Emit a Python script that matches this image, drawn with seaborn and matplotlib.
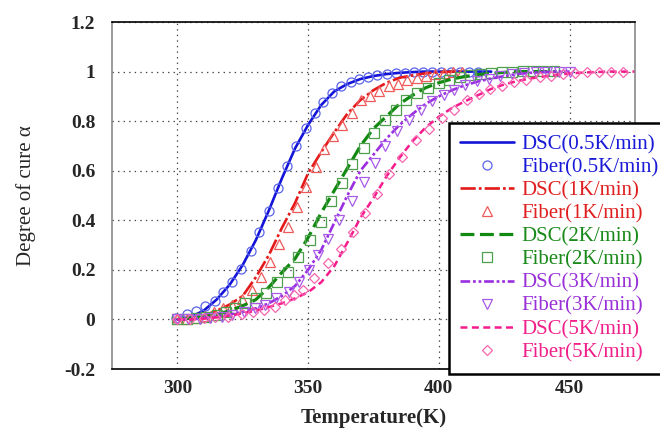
import matplotlib
matplotlib.use("Agg")
import matplotlib.pyplot as plt
import seaborn as sns

sns.set_style("white")
plt.rcParams["font.family"] = ["Liberation Serif", "DejaVu Serif"]
plt.rcParams["lines.scale_dashes"] = False

# ---- DSC model curves (temperature in K, degree of cure) ----
dsc05_T = [300, 305, 310, 315, 320, 325, 330, 335, 340, 345, 350, 355, 360, 365,
           370, 375, 380, 385, 390, 395, 400, 405, 410, 415, 420]
dsc05_a = [0.0, 0.01, 0.035, 0.08, 0.14, 0.22, 0.32, 0.44, 0.57, 0.69, 0.785, 0.865,
           0.92, 0.95, 0.97, 0.982, 0.99, 0.995, 0.998, 1.0, 1.0, 1.0, 1.0, 1.0, 1.0]

dsc1_T = [300, 305, 310, 315, 320, 325, 330, 335, 340, 345, 350, 355, 360, 365,
          370, 375, 380, 385, 390, 395, 400, 405, 410]
dsc1_a = [0.0, 0.005, 0.015, 0.035, 0.06, 0.095, 0.17, 0.26, 0.37, 0.47, 0.59, 0.675,
          0.755, 0.83, 0.885, 0.925, 0.955, 0.975, 0.985, 0.993, 0.997, 1.0, 1.0]

dsc2_T = [300, 305, 310, 315, 320, 325, 330, 335, 340, 345, 350, 355, 360, 365,
          370, 375, 380, 385, 390, 395, 400, 405, 410, 415, 420, 425, 430, 435, 440, 445]
dsc2_a = [0.0, 0.005, 0.01, 0.02, 0.035, 0.055, 0.08, 0.13, 0.19, 0.245, 0.33, 0.43,
          0.52, 0.61, 0.70, 0.77, 0.82, 0.87, 0.905, 0.935, 0.955, 0.97, 0.98, 0.988,
          0.993, 0.997, 1.0, 1.0, 1.0, 1.0]

dsc3_T = [300, 305, 310, 315, 320, 325, 330, 335, 340, 345, 350, 355, 360, 365,
          370, 375, 380, 385, 390, 395, 400, 405, 410, 415, 420, 425, 430, 435, 440,
          445, 450]
dsc3_a = [0.0, 0.0, 0.005, 0.012, 0.02, 0.03, 0.045, 0.065, 0.095, 0.135, 0.2, 0.28,
          0.39, 0.5, 0.6, 0.665, 0.73, 0.785, 0.83, 0.87, 0.9, 0.925, 0.945, 0.96,
          0.972, 0.982, 0.99, 0.995, 0.998, 1.0, 1.0]

dsc5_T = [300, 305, 310, 315, 320, 325, 330, 335, 340, 345, 350, 355, 360, 365,
          370, 375, 380, 385, 390, 395, 400, 405, 410, 415, 420, 425, 430, 435, 440,
          445, 450, 455, 460, 465, 470, 475]
dsc5_a = [0.0, 0.0, 0.003, 0.008, 0.015, 0.025, 0.035, 0.05, 0.065, 0.085, 0.11, 0.15,
          0.215, 0.31, 0.41, 0.49, 0.578, 0.653, 0.72, 0.775, 0.818, 0.853, 0.88,
          0.905, 0.93, 0.948, 0.962, 0.972, 0.98, 0.987, 0.992, 0.996, 0.998, 1.0,
          1.0, 1.0]

# ---- Fiber sensor measurements ----
fib05_T = [299.5, 303.5, 307.0, 310.7, 314.4, 317.6, 320.8, 324.3, 328.1, 331.3,
           335.0, 338.5, 342.0, 345.5, 349.3, 352.7, 355.6, 359.0, 362.6, 366.4,
           369.6, 373.0, 376.5, 380.0, 383.5, 387.0, 390.5, 394.0, 397.5, 401.0,
           404.5, 408.0, 411.5, 415.0]
fib05_a = [0.005, 0.02, 0.035, 0.054, 0.075, 0.109, 0.152, 0.203, 0.276, 0.354,
           0.439, 0.530, 0.62, 0.70, 0.772, 0.833, 0.876, 0.914, 0.94, 0.957, 0.97,
           0.978, 0.985, 0.99, 0.993, 0.996, 0.998, 1.0, 1.0, 1.0, 1.0, 1.0, 1.0, 1.0]

fib1_T = [300.0, 303.5, 307.0, 310.5, 314.0, 317.5, 321.0, 324.6, 328.4, 331.8,
          335.4, 338.9, 342.3, 345.9, 349.3, 352.9, 356.1, 359.6, 363.1, 366.9,
          370.4, 373.8, 377.0, 380.8, 384.3, 388.0, 391.5, 395.0, 398.5, 402.0,
          405.5, 409.0]
fib1_a = [0.0, 0.0, 0.005, 0.015, 0.03, 0.045, 0.06, 0.081, 0.118, 0.17, 0.233,
          0.303, 0.374, 0.455, 0.536, 0.615, 0.687, 0.741, 0.786, 0.833, 0.887, 0.903,
          0.92, 0.94, 0.95, 0.965, 0.975, 0.983, 0.99, 0.995, 0.998, 1.0]

fib2_T = [300.0, 303.5, 307.0, 311.0, 315.0, 318.5, 322.1, 326.0, 330.2, 334.0,
          338.1, 342.3, 346.1, 350.6, 354.9, 358.8, 362.9, 366.7, 371.2, 375.3,
          379.5, 383.5, 387.6, 391.7, 395.9, 400.0, 403.8, 408.0, 412.0, 416.0,
          420.0, 424.0, 428.0, 432.0, 436.0, 440.0, 444.0]
fib2_a = [0.0, 0.0, 0.005, 0.01, 0.018, 0.03, 0.045, 0.065, 0.085, 0.105, 0.152,
          0.191, 0.253, 0.32, 0.395, 0.476, 0.552, 0.627, 0.691, 0.752, 0.806, 0.846,
          0.884, 0.914, 0.934, 0.954, 0.968, 0.978, 0.985, 0.99, 0.994, 0.997, 1.0,
          1.003, 1.003, 1.003, 1.003]

fib3_T = [300.0, 304.0, 308.5, 312.5, 317.0, 321.0, 325.5, 329.6, 333.5, 337.9,
          342.5, 346.5, 350.3, 353.9, 357.6, 361.8, 366.9, 371.3, 375.5, 379.3,
          384.0, 388.5, 393.1, 397.4, 401.8, 405.6, 410.0, 414.5, 419.0, 423.5,
          428.0, 432.5, 437.0, 441.5, 446.0, 450.0]
fib3_a = [0.0, 0.0, 0.0, 0.005, 0.01, 0.018, 0.03, 0.045, 0.058, 0.085, 0.11, 0.15,
          0.2, 0.26, 0.323, 0.401, 0.476, 0.556, 0.631, 0.701, 0.759, 0.805, 0.846,
          0.88, 0.907, 0.927, 0.945, 0.96, 0.972, 0.982, 0.99, 0.995, 0.998, 1.0,
          1.0, 1.0]

fib5_T = [300.0, 305.0, 310.0, 314.5, 319.5, 324.6, 329.0, 333.3, 337.3, 341.1,
          344.5, 348.0, 352.3, 357.5, 362.6, 367.0, 371.9, 376.2, 381.0, 386.0,
          391.1, 396.2, 401.2, 405.7, 410.7, 415.2, 419.6, 424.0, 428.7, 433.4,
          438.5, 443.0, 447.3, 452.0, 456.6, 461.3, 466.0, 470.4]
fib5_a = [0.0, 0.0, 0.005, 0.008, 0.01, 0.02, 0.03, 0.038, 0.051, 0.078, 0.098,
          0.118, 0.166, 0.226, 0.283, 0.354, 0.431, 0.507, 0.588, 0.657, 0.725,
          0.768, 0.813, 0.846, 0.887, 0.91, 0.928, 0.943, 0.957, 0.968, 0.977, 0.984,
          0.992, 0.995, 0.997, 0.999, 1.0, 1.0]

labels = ["DSC(0.5K/min)", "Fiber(0.5K/min)", "DSC(1K/min)", "Fiber(1K/min)",
          "DSC(2K/min)", "Fiber(2K/min)", "DSC(3K/min)", "Fiber(3K/min)",
          "DSC(5K/min)", "Fiber(5K/min)"]
x_ticks = [300, 350, 400, 450]
y_ticks = [-0.2, 0, 0.2, 0.4, 0.6, 0.8, 1.0, 1.2]
y_tick_labels = ["-0.2", "0", "0.2", "0.4", "0.6", "0.8", "1", "1.2"]

line_colors = ["#1414d8", "#e41a1a", "#128a12", "#9a2ee0", "#f51b8c"]
marker_colors = ["#5a64ea", "#ee5a5a", "#4ea04e", "#a85ae8", "#f766b0"]
text_colors = ["#1a1ad8", "#1a1ad8", "#e02020", "#e02020", "#1a8a1a", "#1a8a1a",
               "#9a30d8", "#9a30d8", "#f0208a", "#f0208a"]

dsc_series = [(dsc05_T, dsc05_a), (dsc1_T, dsc1_a), (dsc2_T, dsc2_a),
              (dsc3_T, dsc3_a), (dsc5_T, dsc5_a)]
fib_series = [(fib05_T, fib05_a), (fib1_T, fib1_a), (fib2_T, fib2_a),
              (fib3_T, fib3_a), (fib5_T, fib5_a)]
dash_styles = ["solid", (0, (11, 2.2, 2, 2.2)), (0, (10, 4)),
               (0, (7, 2, 2, 2, 2, 2)), (0, (5, 3.2))]
line_widths = [1.9, 1.9, 2.3, 1.9, 1.8]
markers = ["o", "^", "s", "v", "D"]
marker_sizes = [6.5, 7.0, 7.0, 7.0, 5.5]

fig = plt.figure(figsize=(6.6, 4.3), dpi=100)
ax = fig.add_axes([112 / 660, 1 - 369 / 430, 523 / 660, 347 / 430])

handles = []
for i in range(5):
    T, a = dsc_series[i]
    sns.lineplot(x=T, y=a, ax=ax, color=line_colors[i], linewidth=line_widths[i],
                 estimator=None, sort=False, legend=False)
    ln = ax.lines[-1]
    ln.set_linestyle(dash_styles[i])
    handles.append(ln)

    T, a = fib_series[i]
    sns.lineplot(x=T, y=a, ax=ax, color=marker_colors[i], linestyle="",
                 marker=markers[i], markersize=marker_sizes[i],
                 markerfacecolor="none", markeredgecolor=marker_colors[i],
                 markeredgewidth=0.9, estimator=None, sort=False, legend=False)
    handles.append(ax.lines[-1])

ax.set_xlim(275, 475)
ax.set_ylim(-0.2, 1.2)
ax.set_xticks(x_ticks)
ax.set_xticklabels([str(t) for t in x_ticks], fontweight="bold", fontsize=14)
ax.set_yticks(y_ticks)
ax.set_yticklabels(y_tick_labels, fontweight="bold", fontsize=14)
ax.tick_params(axis="both", direction="in", length=3, width=0.8, color="#444444")
ax.tick_params(axis="x", pad=8)
ax.tick_params(axis="y", pad=12)

ax.grid(True, color="#444444", linestyle=(0, (1, 3)), linewidth=0.9)
ax.set_axisbelow(True)
for side in ["top", "bottom"]:
    ax.spines[side].set_color("black")
    ax.spines[side].set_linewidth(1.2)
for side in ["left", "right"]:
    ax.spines[side].set_color("#8a8a8a")
    ax.spines[side].set_linewidth(1.2)

ax.set_xlabel("Temperature(K)", fontsize=15, fontweight="bold", labelpad=8)
ax.set_ylabel("Degree of cure \u03b1", fontsize=15, labelpad=20)

leg = fig.legend(handles, labels, loc="upper left",
                 bbox_to_anchor=(449 / 660, 1 - 123 / 430),
                 bbox_transform=fig.transFigure, fontsize=15, frameon=True,
                 fancybox=False, edgecolor="black", framealpha=1,
                 borderaxespad=0, borderpad=0.55, labelspacing=0.17,
                 handlelength=2.55, handletextpad=0.35, numpoints=1)
leg.get_frame().set_linewidth(1.8)
for txt, c in zip(leg.get_texts(), text_colors):
    txt.set_color(c)

fig.savefig("out.png", dpi=100)
